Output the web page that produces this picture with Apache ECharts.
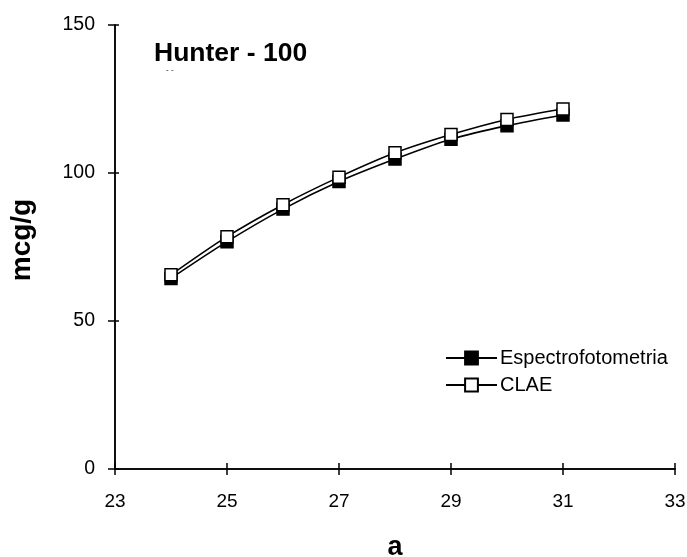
<!DOCTYPE html>
<html>
<head>
<meta charset="utf-8">
<script src="https://cdn.jsdelivr.net/npm/echarts@6/dist/echarts.min.js"></script>
<style>
  html, body { margin: 0; padding: 0; background: #fff; }
  #chart { width: 687px; height: 557px; }
</style>
</head>
<body>
<div id="chart"></div>
<script>
// Abscissa values ("a")
const xValues = [24, 25, 26, 27, 28, 29, 30, 31];
// Measurements in mcg/g by each method
const espectrofotometria = [64.4, 76.8, 87.8, 97.1, 104.7, 111.4, 116.0, 119.6];
const clae = [65.6, 78.5, 89.3, 98.6, 106.8, 113.0, 118.1, 121.6];
const seriesNames = ['Espectrofotometria', 'CLAE'];
const xTicks = { min: 23, max: 33, interval: 2 };
const yTicks = { min: 0, max: 150, interval: 50 };

const pairs = (ys) => xValues.map((x, i) => [x, ys[i]]);
const font = 'Liberation Sans, Arial, sans-serif';

const chart = echarts.init(document.getElementById('chart'), null, { renderer: 'canvas' });

const baseX = {
  type: 'value', min: xTicks.min, max: xTicks.max, interval: xTicks.interval,
  splitLine: { show: false },
  axisLine: { show: true, onZero: false, lineStyle: { color: '#000', width: 1.5 } }
};
const baseY = {
  type: 'value', min: yTicks.min, max: yTicks.max, interval: yTicks.interval,
  splitLine: { show: false },
  axisLine: { show: true, onZero: false, lineStyle: { color: '#000', width: 1.5 } }
};

chart.setOption({
  animation: false,
  backgroundColor: '#fff',
  textStyle: { fontFamily: font },
  grid: { left: 115, top: 25, right: 12, bottom: 88, containLabel: false, outerBoundsMode: 'none' },
  title: {
    text: 'Hunter - 100',
    left: 154, top: 40, padding: 0,
    textStyle: { fontFamily: font, fontWeight: 'bold', fontSize: 26.5, color: '#000' }
  },
  graphic: [{
    type: 'text', left: 166, top: 66,
    style: { text: '- -', fill: '#000', font: '8px ' + font }
  }],
  legend: {
    orient: 'vertical', left: 445, top: 348, padding: 0,
    itemWidth: 51, itemHeight: 16, itemGap: 7,
    textStyle: { fontFamily: font, fontSize: 20, color: '#000', padding: [0, 0, 0, -2] },
    data: seriesNames
  },
  xAxis: [
    Object.assign({}, baseX, {
      name: 'a', nameLocation: 'middle', nameGap: 65,
      nameTextStyle: { fontFamily: font, fontWeight: 'bold', fontSize: 27, color: '#000' },
      axisTick: { show: true, inside: false, length: 6, lineStyle: { color: '#000', width: 1.5 } },
      axisLabel: { margin: 23, fontFamily: font, fontSize: 19, color: '#000' }
    }),
    Object.assign({}, baseX, {
      position: 'bottom',
      axisTick: { show: true, inside: true, length: 6, lineStyle: { color: '#000', width: 1.5 } },
      axisLabel: { show: false }
    })
  ],
  yAxis: [
    Object.assign({}, baseY, {
      name: 'mcg/g', nameLocation: 'middle', nameRotate: 90, nameGap: 79,
      nameTextStyle: { fontFamily: font, fontWeight: 'bold', fontSize: 28, color: '#000', padding: [0, 0, 0, 14] },
      axisTick: { show: true, inside: false, length: 7, lineStyle: { color: '#000', width: 1.5 } },
      axisLabel: { margin: 20, fontFamily: font, fontSize: 19.5, color: '#000' }
    }),
    Object.assign({}, baseY, {
      position: 'left',
      axisTick: { show: true, inside: true, length: 4, lineStyle: { color: '#000', width: 1.5 } },
      axisLabel: { show: false }
    })
  ],
  series: [
    {
      name: seriesNames[0], type: 'line', xAxisIndex: 0, yAxisIndex: 0,
      data: pairs(espectrofotometria),
      smooth: 0.3,
      symbol: 'rect', symbolSize: 12,
      lineStyle: { color: '#000', width: 1.6 },
      itemStyle: { color: '#000', borderColor: '#000', borderWidth: 1.5 },
      z: 2
    },
    {
      name: seriesNames[1], type: 'line', xAxisIndex: 0, yAxisIndex: 0,
      data: pairs(clae),
      smooth: 0.3,
      symbol: 'rect', symbolSize: 12,
      lineStyle: { color: '#000', width: 1.6 },
      itemStyle: { color: '#fff', borderColor: '#000', borderWidth: 1.5 },
      z: 3
    }
  ]
});
</script>
</body>
</html>
